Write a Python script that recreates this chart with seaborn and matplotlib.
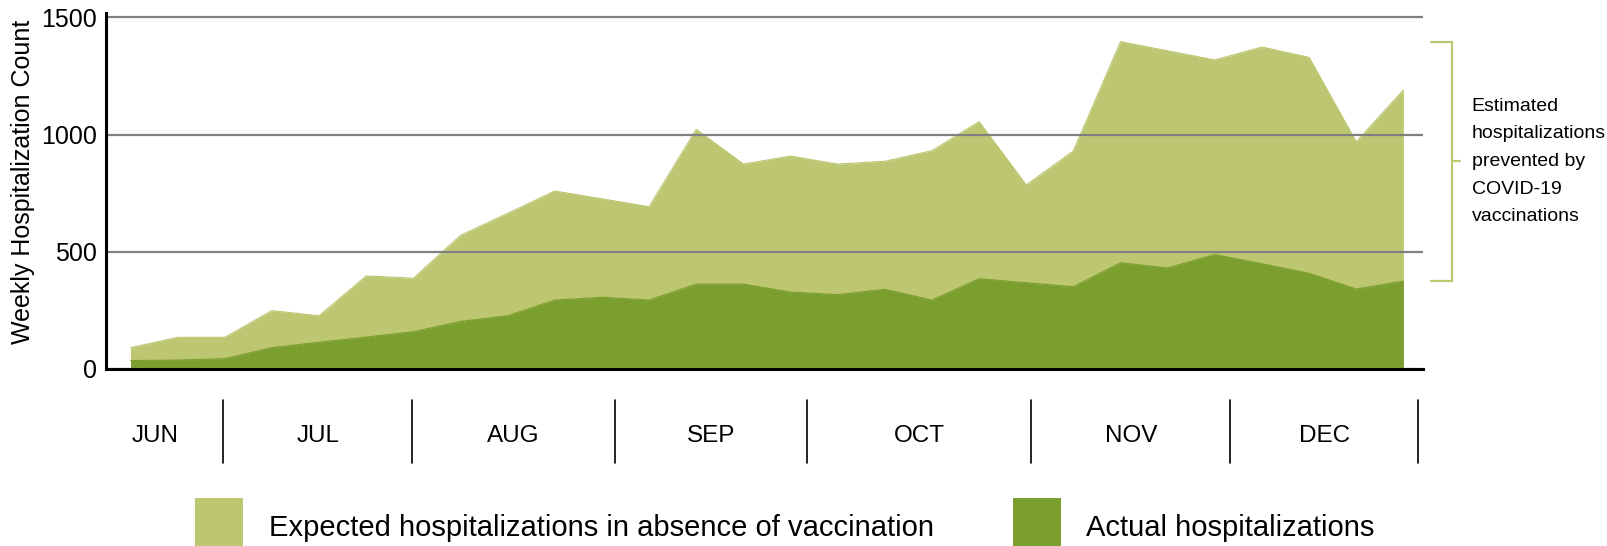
import pandas as pd
import matplotlib.pyplot as plt
import seaborn as sns
from matplotlib.patches import Rectangle

# weekly values (June -> December)
weeks = list(range(28))
expected = [91, 135, 135, 249, 227, 397, 387, 570, 664, 759, 726, 692, 1022, 874,
            908, 874, 886, 931, 1055, 785, 930, 1396, 1357, 1318, 1373, 1329, 969, 1190]
actual = [36, 38, 44, 91, 114, 136, 159, 203, 227, 294, 306, 294, 362, 362,
          328, 317, 340, 294, 385, 368, 351, 453, 431, 488, 449, 408, 341, 375]

months = ["JUN", "JUL", "AUG", "SEP", "OCT", "NOV", "DEC"]
# month boundaries in week units
month_edges = [-0.93, 1.97, 5.98, 10.27, 14.36, 19.11, 23.33, 27.32]
y_ticks = [0, 500, 1000, 1500]

legend_labels = ["Expected hospitalizations in absence of vaccination", "Actual hospitalizations"]
note = "Estimated\nhospitalizations\nprevented by\nCOVID-19\nvaccinations"

light = "#bdc670"
dark = "#7b9f2f"

sns.set_theme(style="white")
plt.rcParams["font.family"] = ["Liberation Sans", "DejaVu Sans"]

df = pd.DataFrame({"week": weeks, "expected": expected, "actual": actual})

W, H = 1608, 546
fig = plt.figure(figsize=(W / 100, H / 100), dpi=100)
ax = fig.add_axes([106 / W, 1 - 369 / H, (1422.7 - 106) / W, (369 - 13.3) / H])

# areas
sns.lineplot(data=df, x="week", y="expected", color=light, lw=0.8, ax=ax)
ax.fill_between(df["week"], 0, df["expected"], color=light, lw=0)
sns.lineplot(data=df, x="week", y="actual", color=dark, lw=0.8, ax=ax)
ax.fill_between(df["week"], 0, df["actual"], color=dark, lw=0)

ax.set_xlim(-0.52, 27.41)
ax.set_ylim(0, 1517)
ax.set_yticks(y_ticks)
ax.set_xticks([])
ax.set_xlabel("")
ax.yaxis.grid(True, color="#808080", lw=1.6)
ax.set_axisbelow(False)
ax.tick_params(axis="y", length=0, pad=6.5, labelsize=18, labelcolor="black")

for s in ["top", "right"]:
    ax.spines[s].set_visible(False)
for s in ["left", "bottom"]:
    ax.spines[s].set_color("black")
    ax.spines[s].set_linewidth(2.2)
    ax.spines[s].set_zorder(3)

ax.set_ylabel("Weekly Hospitalization Count", fontsize=18, color="black")
ax.yaxis.set_label_coords(-0.054, 0.526)

# month band under the axis
xt = ax.get_xaxis_transform()
for e in month_edges[1:]:
    ax.plot([e, e], [-0.087, -0.264], transform=xt, color="black", lw=1.2, clip_on=False)
for m, a, b in zip(months, month_edges[:-1], month_edges[1:]):
    ax.text((a + b) / 2, -0.205, m, transform=xt, ha="center", va="baseline",
            fontsize=17.5, color="black")

# bracket for prevented hospitalizations
top, bot = max(expected), actual[-1]
mid = (top + bot) / 2
ax.plot([27.59, 28.03, 28.03, 27.59], [top, top, bot, bot], color=light, lw=1.6, clip_on=False)
ax.plot([28.03, 28.2], [mid, mid], color=light, lw=1.6, clip_on=False)
ax.text(28.45, mid, note, ha="left", va="center", fontsize=14, linespacing=1.82, color="black")

# legend
for x0, tx, col, lab in [(195, 269, light, legend_labels[0]), (1013, 1086, dark, legend_labels[1])]:
    fig.add_artist(Rectangle((x0 / W, 0), 48 / W, 48 / H, transform=fig.transFigure,
                             color=col, lw=0))
    fig.text(tx / W, 10.5 / H, lab, ha="left", va="baseline", fontsize=21, color="black")

fig.savefig("out.png", dpi=100)
